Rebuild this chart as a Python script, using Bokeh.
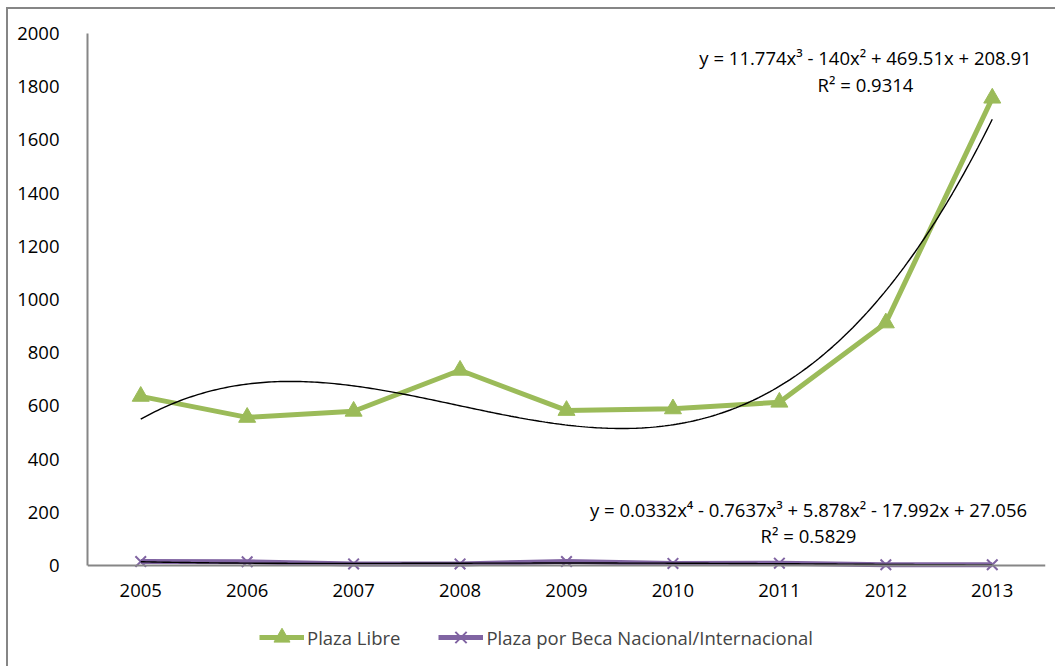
import numpy as np
from bokeh.plotting import figure
from bokeh.models import Label, FixedTicker, Range1d, Legend
from bokeh.embed import file_html
from bokeh.resources import INLINE

# ---- data -------------------------------------------------------------
years = [2005, 2006, 2007, 2008, 2009, 2010, 2011, 2012, 2013]
plaza_libre = [636, 557, 580, 734, 583, 589, 614, 912, 1757]
plaza_beca = [15, 14, 6, 6, 15, 8, 9, 3, 3]

# polynomial trend lines (x = 1 .. 9), highest power first
trend_libre = [11.774, -140.0, 469.51, 208.91]
trend_beca = [0.0332, -0.7637, 5.878, -17.992, 27.056]
eq_libre = "y = 11.774x³ - 140x² + 469.51x + 208.91"
r2_libre = "R² = 0.9314"
eq_beca = "y = 0.0332x⁴ - 0.7637x³ + 5.878x² - 17.992x + 27.056"
r2_beca = "R² = 0.5829"

y_ticks = [0, 200, 400, 600, 800, 1000, 1200, 1400, 1600, 1800, 2000]

GREEN = "#9BBB59"
PURPLE = "#8064A2"
AXIS = "#868686"
FONT = "Open Sans"
FS = "18.5px"

# the plot frame runs below the value 0 so the legend can sit inside it;
# the category axis is pinned at y = 0
p = figure(
    width=1055, height=666,
    output_backend="svg", toolbar_location=None,
    x_range=Range1d(2004.5, 2013.5), y_range=Range1d(-357, 2000),
    min_border_left=87, min_border_right=10,
    min_border_top=33, min_border_bottom=6,
)
p.border_fill_alpha = 0
p.background_fill_color = "white"
p.outline_line_color = None
p.grid.visible = False
# outer chart border, drawn behind the transparent canvas
p.styles = {
    "background": (
        f"linear-gradient({AXIS},{AXIS}) 6px 7px / 2px 100% no-repeat, "
        f"linear-gradient({AXIS},{AXIS}) 6px 7px / 100% 2px no-repeat, white"
    )
}

for ax in (p.xaxis[0], p.yaxis[0]):
    ax.axis_line_color = AXIS
    ax.axis_line_width = 2
    ax.major_tick_line_color = None
    ax.minor_tick_line_color = None
    ax.major_label_text_font = FONT
    ax.major_label_text_font_size = FS
    ax.major_label_text_color = "black"

p.xaxis[0].fixed_location = 0
p.xaxis[0].ticker = FixedTicker(ticks=years)
p.xaxis[0].major_label_standoff = 12
p.yaxis[0].ticker = FixedTicker(ticks=y_ticks)
p.yaxis[0].bounds = (0, 2000)
p.yaxis[0].major_label_standoff = 22

# series
l1 = p.line(years, plaza_libre, line_color=GREEN, line_width=5)
m1 = p.scatter(years, plaza_libre, marker="triangle", size=17,
               fill_color=GREEN, line_color=GREEN)
l2 = p.line(years, plaza_beca, line_color=PURPLE, line_width=5)
m2 = p.scatter(years, plaza_beca, marker="x", size=15,
               line_color=PURPLE, line_width=2)

# trend lines
xs = np.linspace(1, 9, 300)
p.line(2004 + xs, np.polyval(trend_libre, xs), line_color="black", line_width=1.4)
p.line(2004 + xs, np.polyval(trend_beca, xs), line_color="black", line_width=1.4)

def note(text, x, y):
    p.add_layout(Label(
        x=x, y=y, x_units="screen", y_units="screen", text=text,
        text_font=FONT, text_font_size=FS,
        text_align="center", text_baseline="middle", text_color="black",
    ))

note(eq_libre, 778, 603)
note(r2_libre, 778, 576)
note(eq_beca, 721, 151)
note(r2_beca, 721, 125)

legend = Legend(
    items=[("Plaza Libre", [l1, m1]),
           ("Plaza por Beca Nacional/Internacional", [l2, m2])],
    orientation="horizontal", location=(172, 3),
    glyph_width=45, glyph_height=40, label_standoff=3, spacing=38,
    padding=0, margin=0, border_line_alpha=0, background_fill_alpha=0,
    label_text_font=FONT, label_text_font_size=FS,
)
p.add_layout(legend, "center")

open("out.html", "w").write(file_html(p, INLINE))
